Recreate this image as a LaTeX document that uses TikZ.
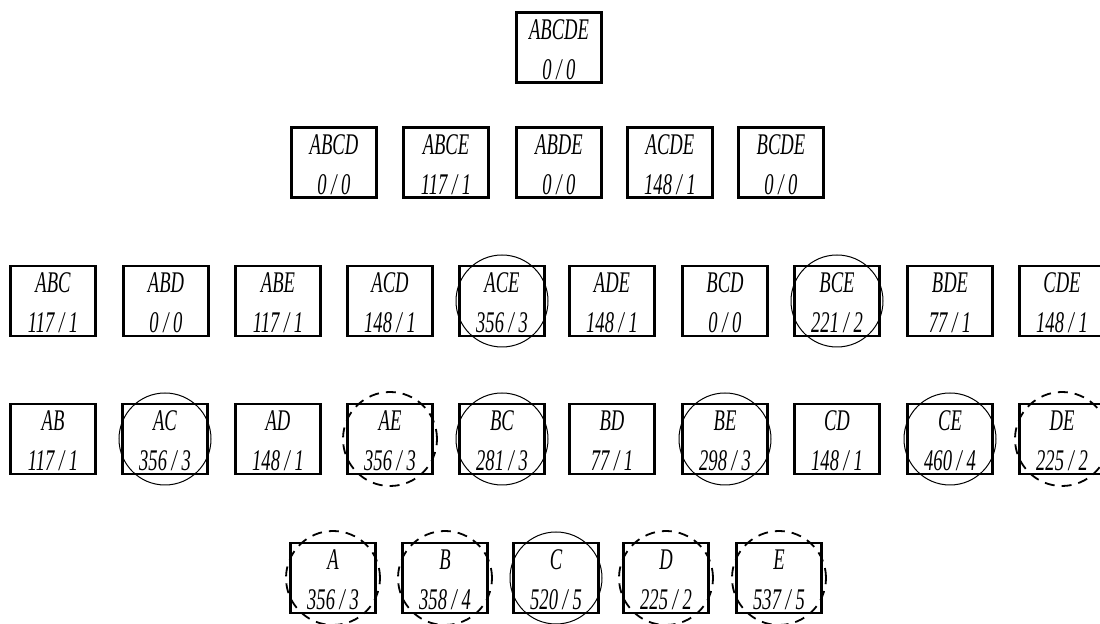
\documentclass[tikz,border=0pt]{standalone}
\usepackage{fontspec}
\newfontfamily\boxfont{Liberation Serif}[FakeStretch=0.62]
\usepackage{tikz}
\tikzset{
  cell/.style  = {draw,line width=1.2pt,minimum width=42.5pt,minimum height=35pt,
                  inner sep=0pt,align=center,text height=33pt,text depth=1pt,
                  font=\boxfont\itshape\fontsize{15}{20}\selectfont},
  ring/.style  = {line width=0.5pt},
  dring/.style = {line width=0.9pt,dash pattern=on 5pt off 3.5pt},
}
\begin{document}
\begin{tikzpicture}[x=0.5pt,y=-0.5pt]
  \useasboundingbox (0,0) rectangle (1100,624);

  % Level 5
  \node[cell] (ABCDE) at (559,47.5) {ABCDE\\0\ /\ 0};

  % Level 4
  \foreach \x/\n/\p/\q in {334/ABCD/0/0, 446/ABCE/117/1, 559/ABDE/0/0,
                           670/ACDE/148/1, 781/BCDE/0/0}
    \node[cell] (\n) at (\x,162.5) {\n\\\p\ /\ \q};

  % Level 3
  \foreach \x/\n/\p/\q in {53/ABC/117/1, 166/ABD/0/0, 278/ABE/117/1,
                           390/ACD/148/1, 502/ACE/356/3, 612/ADE/148/1,
                           725/BCD/0/0, 837/BCE/221/2, 950/BDE/77/1,
                           1062/CDE/148/1}
    \node[cell] (\n) at (\x,301) {\n\\\p\ /\ \q};

  % Level 2
  \foreach \x/\n/\p/\q in {53/AB/117/1, 165/AC/356/3, 278/AD/148/1,
                           390/AE/356/3, 502/BC/281/3, 612/BD/77/1,
                           725/BE/298/3, 837/CD/148/1, 950/CE/460/4,
                           1062/DE/225/2}
    \node[cell] (\n) at (\x,439) {\n\\\p\ /\ \q};

  % Level 1
  \foreach \x/\n/\p/\q in {333/A/356/3, 445/B/358/4, 556/C/520/5,
                           666/D/225/2, 779/E/537/5}
    \node[cell] (\n) at (\x,578) {\n\\\p\ /\ \q};

  % Marked itemsets
  \foreach \n in {ACE,BCE,AC,BC,BE,CE,C}
    \draw[ring] (\n) circle[radius=23pt];
  \foreach \n in {AE,DE,A,B,D,E}
    \draw[dring] (\n) circle[radius=23.5pt];
\end{tikzpicture}
\end{document}
